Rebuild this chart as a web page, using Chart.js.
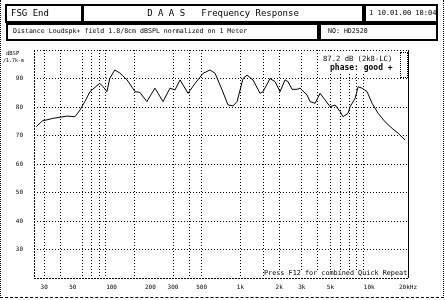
<!DOCTYPE html>
<html><head><meta charset="utf-8">
<script src="https://cdn.jsdelivr.net/npm/chart.js@4/dist/chart.umd.min.js"></script>
<style>
body{margin:0;background:#fff;}
#wrap{position:relative;width:445px;height:300px;overflow:hidden;font-family:"DejaVu Sans Mono",monospace;color:#000;background:#fff;}
#c{position:absolute;left:0;top:0;}
.box{position:absolute;border:2px solid #000;box-sizing:border-box;font-size:7px;line-height:14px;white-space:nowrap;}
.t{position:absolute;font-size:7px;line-height:1;white-space:nowrap;}
#outer{position:absolute;left:0;top:0;width:444px;height:298px;box-sizing:border-box;border-left:1px dotted #000;border-right:1px dotted #000;border-bottom:1px dashed #000;}
#leg{position:absolute;left:318px;top:52px;width:80px;height:22px;background:#fff;}
#mini{position:absolute;left:400px;top:52px;width:8px;height:26px;box-sizing:border-box;border:1px dotted #000;background:#fff;}
</style></head>
<body><div id="wrap">
<canvas id="c" width="445" height="300"></canvas>
<div id="outer"></div>
<div class="box" style="left:5px;top:4px;width:78px;height:19px;padding-left:4px;font-size:9px;">FSG End</div>
<div class="box" style="left:82px;top:4px;width:282px;height:19px;text-align:center;font-size:9px;">D A A S &nbsp;&nbsp;Frequency Response</div>
<div class="box" style="left:364px;top:4px;width:74px;height:19px;padding-left:3px;">1 10.01.00 10:04</div>
<div class="box" style="left:6px;top:23px;width:313px;height:18px;padding-left:5px;line-height:13px;font-size:6.6px;">Distance Loudspk+ field 1.8/8cm dBSPL normalized on 1 Meter</div>
<div class="box" style="left:319px;top:23px;width:119px;height:18px;padding-left:7px;line-height:13px;font-size:6.6px;">NO: HD2520</div>
<div class="t" style="left:6px;top:51px;font-size:5.5px;">dBSP</div>
<div class="t" style="left:3px;top:58px;font-size:5px;">/1.7k-m</div>
<div id="leg"><div class="t" style="left:5px;top:3px;font-size:7.2px;">87.2 dB (2k8-LC)</div><div class="t" style="left:12px;top:12px;font-weight:bold;font-size:8px;">phase: good +</div></div>
<div id="mini"></div>
<div class="t" style="left:264px;top:270px;background:#fff;font-size:6.8px;">Press F12 for combined Quick Repeat</div>
</div>
<script>
const freqs = [26,29,35,45,52,57,62,68,81,86,92,97,106,116,132,152,166,188,217,251,284,311,340,359,392,445,513,581,636,721,802,877,942,1049,1127,1253,1421,1500,1699,1858,2032,2222,2344,2518,2754,2904,3294,3475,3800,4154,4540,4965,5430,5940,6266,6853,7103,7766,8200,8810,9620,10520,11720,13280,15060,16750,18970];
const levels = [73.1,75.1,76.0,76.8,76.6,79.0,81.9,85.4,88.3,87.1,85.4,90.1,93.0,91.9,89.5,85.4,85.1,81.9,86.6,81.9,86.6,86.0,89.5,87.7,84.8,88.3,91.8,93.0,91.8,86.0,80.7,80.4,81.9,90.0,91.2,89.5,84.8,85.4,90.0,88.9,85.4,89.5,88.9,86.2,86.2,86.6,84.2,81.9,81.3,84.8,82.5,80.1,80.7,78.4,76.6,77.8,80.1,83.0,87.1,86.6,85.4,81.3,77.8,74.8,72.5,70.8,68.4];
const yTickValues = [20,30,40,50,60,70,80,90,100];
const yLabelValues = [30,40,50,60,70,80,90];
const xGridFreqs = [30,40,60,70,80,90,150,300,400,500,1000,1500,2000,3000,4000,5000,6000,7000,8000,9000,20000];
const xLabelFreqs = [30,50,100,200,300,500,1000,2000,3000,5000,10000,20000];
const xLabelTexts = ["30","50","100","200","300","500","1k","2k","3k","5k","10k","20kHz"];

const frame = {id:'frame', afterDraw(c){
  const {ctx, chartArea:a} = c;
  ctx.save(); ctx.strokeStyle='#000'; ctx.lineWidth=1;
  ctx.setLineDash([2,1]);
  ctx.beginPath();
  ctx.moveTo(a.left+0.5,a.top); ctx.lineTo(a.left+0.5,a.bottom+0.5);
  ctx.lineTo(a.right+0.5,a.bottom+0.5); ctx.lineTo(a.right+0.5,a.top);
  ctx.stroke();
  ctx.setLineDash([1,2]);
  ctx.beginPath(); ctx.moveTo(a.left,a.top+0.5); ctx.lineTo(a.right,a.top+0.5); ctx.stroke();
  ctx.restore();
}};

new Chart(document.getElementById('c'), {
  type:'line',
  data:{datasets:[{data:freqs.map((f,i)=>({x:f,y:levels[i]})), borderColor:'#000', borderWidth:1, pointRadius:0, tension:0, fill:false}]},
  options:{
    responsive:false, animation:false,
    layout:{padding:{left:0,top:50,right:37,bottom:0}},
    plugins:{legend:{display:false}, tooltip:{enabled:false}},
    scales:{
      x:{type:'logarithmic', min:25, max:20000,
        afterBuildTicks:s=>{s.ticks = Array.from(new Set(xGridFreqs.concat(xLabelFreqs))).sort((a,b)=>a-b).map(v=>({value:v}));},
        afterFit:s=>{s.height=22;},
        ticks:{autoSkip:false, maxRotation:0, padding:6, color:'#000', font:{family:'DejaVu Sans Mono', size:6},
          callback:(v)=>{const i=xLabelFreqs.indexOf(v); return i>=0?xLabelTexts[i]:'';}},
        grid:{color:(ctx)=> (ctx.tick && xGridFreqs.includes(ctx.tick.value)) ? '#000' : 'rgba(0,0,0,0)', lineWidth:1, drawTicks:false},
        border:{display:false, dash:[1,2]}
      },
      y:{type:'linear', min:20, max:100,
        afterBuildTicks:s=>{s.ticks = yTickValues.map(v=>({value:v}));},
        afterFit:s=>{s.width=34;},
        ticks:{padding:11, color:'#000', font:{family:'DejaVu Sans Mono', size:6},
          callback:(v)=> yLabelValues.includes(v)? String(v):''},
        grid:{color:'#000', lineWidth:1, drawTicks:false},
        border:{display:false, dash:[1,2]}
      }
    }
  },
  plugins:[frame]
});
</script>
</body></html>
